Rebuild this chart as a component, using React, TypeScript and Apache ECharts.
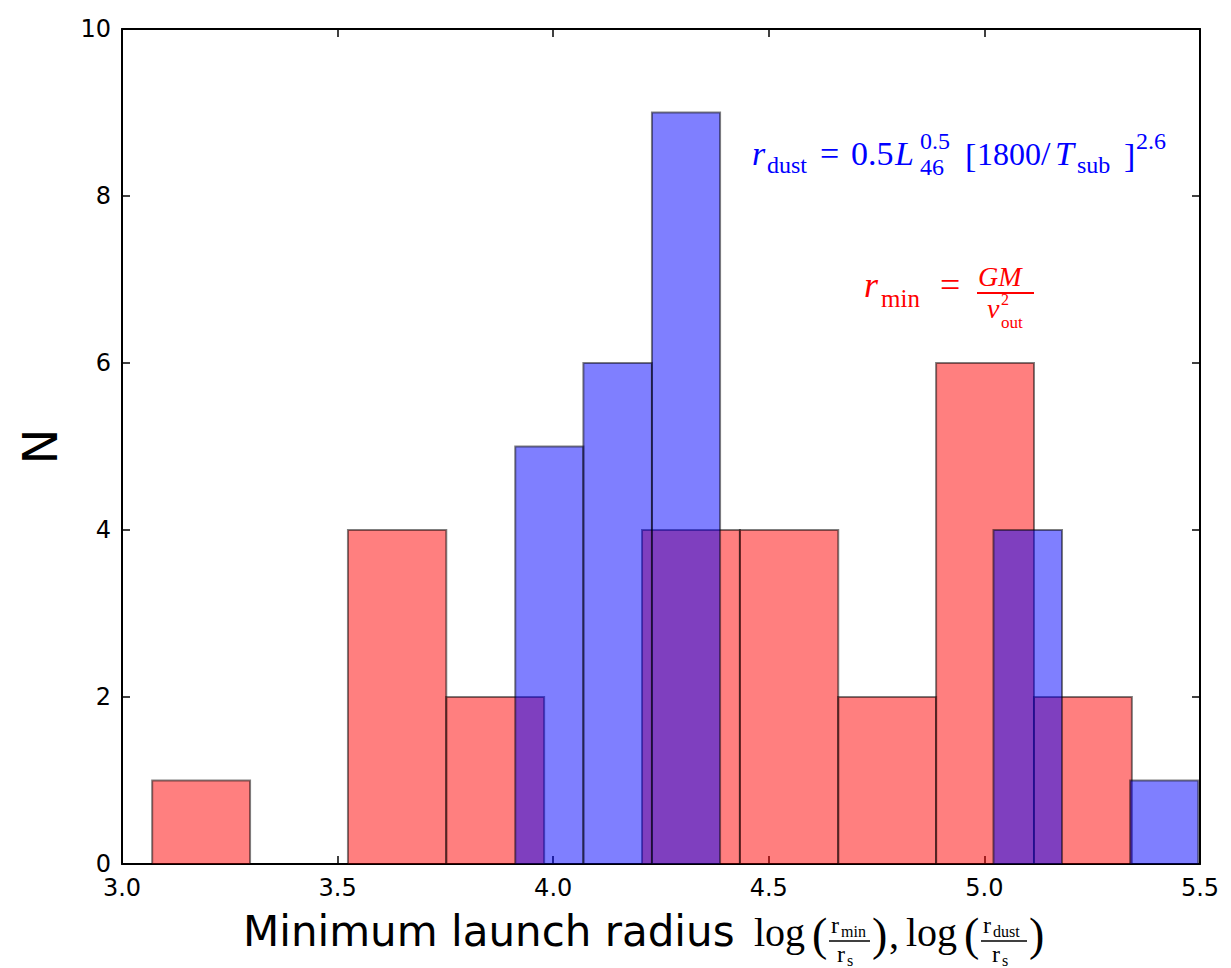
import React, { useEffect, useRef } from "react";
import * as echarts from "echarts";

// Histogram bins: left/right edges in log(r / r_s) and the count per bin.
const rMinEdges = [3.070, 3.297, 3.524, 3.752, 3.979, 4.206, 4.433, 4.661, 4.888, 5.115, 5.342];
const rMinCounts = [1, 0, 4, 2, 0, 4, 4, 2, 6, 2];

const rDustEdges = [3.912, 4.070, 4.229, 4.387, 4.546, 4.704, 4.863, 5.021, 5.180, 5.338, 5.496];
const rDustCounts = [5, 6, 9, 0, 0, 0, 0, 4, 0, 1];

const xTicks = ["3.0", "3.5", "4.0", "4.5", "5.0", "5.5"];
const yTicks = ["0", "2", "4", "6", "8", "10"];

const SANS = "'DejaVu Sans', sans-serif";
const SERIF = "'Liberation Serif', 'DejaVu Serif', serif";

function toBins(edges: number[], counts: number[]) {
  return counts.map((c, i) => [edges[i], edges[i + 1], c]);
}

function histSeries(name: string, data: number[][], fill: string) {
  return {
    name,
    type: "custom",
    data,
    encode: { x: [0, 1], y: 2 },
    renderItem: (_params: any, api: any) => {
      const n = api.value(2);
      if (!n) return null;
      const p0 = api.coord([api.value(0), 0]);
      const p1 = api.coord([api.value(1), n]);
      return {
        type: "rect",
        shape: { x: p0[0], y: p1[1], width: p1[0] - p0[0], height: p0[1] - p1[1] },
        style: { fill, stroke: "rgba(0,0,0,0.5)", lineWidth: 2 },
      };
    },
  };
}

// Text placed by its alphabetic baseline (central baseline sits ~0.34em above it).
function t(x: number, base: number, text: string, size: number, fill: string, italic = false, family = SERIF) {
  return {
    type: "text",
    x,
    y: base - 0.34 * size,
    silent: true,
    style: {
      text,
      fill,
      fontSize: size,
      fontFamily: family,
      fontStyle: italic ? "italic" : "normal",
      align: "left",
      verticalAlign: "middle",
    },
  };
}

function hline(x1: number, x2: number, y: number, stroke: string, w = 1.5) {
  return { type: "line", silent: true, shape: { x1, y1: y, x2, y2: y }, style: { stroke, lineWidth: w } };
}

const BLUE = "#0000ff";
const RED = "#ff0000";

// r_dust = 0.5 L_46^0.5 [1800/T_sub]^2.6
const dustFormula = [
  t(752, 165, "r", 34, BLUE, true),
  t(767, 173, "dust", 24, BLUE),
  t(820, 165, "=", 34, BLUE),
  t(851, 165, "0.5", 34, BLUE),
  t(895, 165, "L", 34, BLUE, true),
  t(920, 149, "0.5", 24, BLUE),
  t(920, 175, "46", 24, BLUE),
  t(965, 167, "[", 34, BLUE),
  t(977, 165, "1800", 32, BLUE),
  t(1041, 165, "/", 34, BLUE),
  t(1055, 165, "T", 34, BLUE, true),
  t(1077, 173, "sub", 24, BLUE),
  t(1124, 167, "]", 34, BLUE),
  t(1136, 149, "2.6", 24, BLUE),
];

// r_min = GM / v_out^2
const minFormula = [
  t(864, 297, "r", 36, RED, true),
  t(881, 307, "min", 25, RED),
  t(940, 297, "=", 36, RED),
  t(978, 286, "GM", 28, RED, true),
  hline(977, 1034, 293, RED, 2),
  t(987, 318, "v", 28, RED, true),
  t(1001, 305, "2", 16, RED),
  t(1001, 328, "out", 17, RED),
];

// Axis title: Minimum launch radius log(r_min/r_s), log(r_dust/r_s)
const xTitle = [
  t(243, 946, "Minimum launch radius", 42, "#000", false, SANS),
  t(754, 946, "log", 40, "#000"),
  t(812, 950, "(", 46, "#000"),
  t(831, 933, "r", 24, "#000"),
  t(841, 937, "min", 16, "#000"),
  hline(829, 870, 941, "#000", 1.5),
  t(837, 962, "r", 24, "#000"),
  t(847, 966, "s", 16, "#000"),
  t(872, 950, ")", 46, "#000"),
  t(889, 948, ",", 40, "#000"),
  t(906, 946, "log", 40, "#000"),
  t(964, 950, "(", 46, "#000"),
  t(983, 933, "r", 24, "#000"),
  t(993, 937, "dust", 16, "#000"),
  hline(981, 1027, 941, "#000", 1.5),
  t(992, 962, "r", 24, "#000"),
  t(1002, 966, "s", 16, "#000"),
  t(1029, 950, ")", 46, "#000"),
];

export default function App() {
  const ref = useRef<HTMLDivElement>(null);

  useEffect(() => {
    if (!ref.current) return;
    const chart = echarts.init(ref.current, undefined, { renderer: "svg" });

    const axisLine = { show: true, onZero: false, lineStyle: { color: "#000", width: 2 } };
    const tick = { show: true, inside: true, length: 8, lineStyle: { color: "#000", width: 1.5 } };
    const label = { color: "#000", fontSize: 24, fontFamily: SANS };

    chart.setOption({
      animation: false,
      backgroundColor: "#fff",
      grid: { left: 122, right: 31, top: 29, bottom: 104, containLabel: false },
      xAxis: [
        {
          type: "value",
          min: 3.0,
          max: 5.5,
          interval: 0.5,
          axisLine,
          axisTick: tick,
          splitLine: { show: false },
          axisLabel: { ...label, margin: 12, formatter: (v: number) => xTicks[Math.round((v - 3) / 0.5)] ?? "" },
        },
        {
          type: "value",
          position: "top",
          min: 3.0,
          max: 5.5,
          interval: 0.5,
          axisLine,
          axisTick: tick,
          axisLabel: { show: false },
          splitLine: { show: false },
        },
      ],
      yAxis: [
        {
          type: "value",
          min: 0,
          max: 10,
          interval: 2,
          name: "N",
          nameLocation: "middle",
          nameGap: 58,
          nameRotate: 90,
          nameTextStyle: { color: "#000", fontSize: 48, fontFamily: SANS },
          axisLine,
          axisTick: tick,
          splitLine: { show: false },
          axisLabel: { ...label, margin: 11, formatter: (v: number) => yTicks[Math.round(v / 2)] ?? "" },
        },
        {
          type: "value",
          position: "right",
          min: 0,
          max: 10,
          interval: 2,
          axisLine,
          axisTick: tick,
          axisLabel: { show: false },
          splitLine: { show: false },
        },
      ],
      series: [
        histSeries("r_min", toBins(rMinEdges, rMinCounts), "rgba(255,0,0,0.5)"),
        histSeries("r_dust", toBins(rDustEdges, rDustCounts), "rgba(0,0,255,0.5)"),
      ],
      graphic: [...dustFormula, ...minFormula, ...xTitle],
    });

    return () => chart.dispose();
  }, []);

  return (
    <div
      ref={ref}
      style={{ position: "absolute", left: 0, top: 0, width: 1231, height: 968, background: "#fff" }}
    />
  );
}
